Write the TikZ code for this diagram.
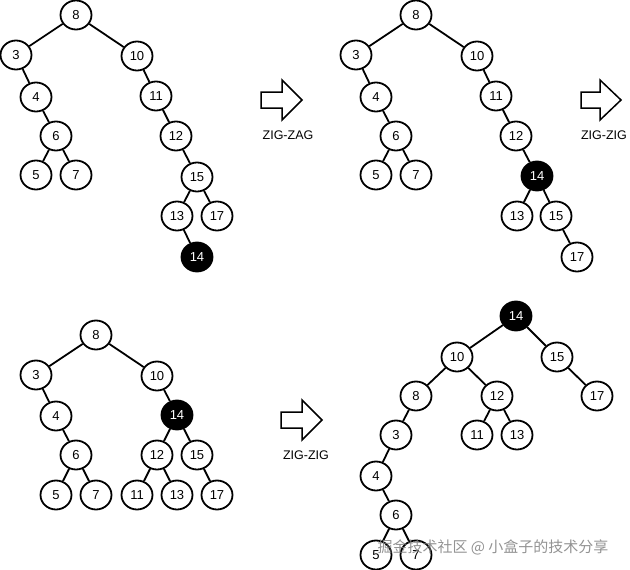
\documentclass[tikz,border=0pt]{standalone}
\usepackage{fontspec}
\setmainfont{Liberation Sans}
\newfontfamily\cjk{Noto Sans CJK SC}
\usetikzlibrary{shapes.geometric}

\tikzset{
    bst/.style={ellipse, draw, line width=1.8pt, fill=white, minimum width=31pt,
        minimum height=29pt, inner sep=0pt, font=\fontsize{13}{15}\selectfont},
    hot/.style={bst, fill=black, text=white},
    link/.style={line width=1.8pt},
    rotarrow/.style={draw, line width=1.5pt, line join=miter, fill=white},
    steplabel/.style={font=\fontsize{12.5}{14}\selectfont}
}

\begin{document}
\begin{tikzpicture}[x=1pt, y=-1pt]
    \useasboundingbox (0,0) rectangle (630,570);

    % first tree, 14 just inserted
    \foreach \n/\x/\y in {8/76/15, 3/16/55, 10/137/56, 4/36/97, 11/156/96, 6/56/136,
        12/176/136, 5/36/175, 7/76/175, 15/197/177, 13/177/216, 17/217/216}
        \node[bst] (a\n) at (\x,\y) {\n};
    \node[hot] (a14) at (197,257) {14};
    \foreach \u/\v in {8/3, 8/10, 3/4, 4/6, 6/5, 6/7, 10/11, 11/12, 12/15, 15/13, 15/17, 13/14}
        \draw[link] (a\u) -- (a\v);

    \draw[rotarrow] (261,92) -- (282,92) -- (282,80) -- (302,100) -- (282,120)
        -- (282,108) -- (261,108) -- cycle;
    \node[steplabel] (zz) at (288,135) {ZIG-ZAG};

    % second tree
    \foreach \n/\x/\y in {8/416/15, 3/356/55, 10/477/56, 4/376/97, 11/496/96, 6/396/136,
        12/516/136, 5/376/175, 7/416/175, 13/517/216, 15/556/216, 17/577/257}
        \node[bst] (b\n) at (\x,\y) {\n};
    \node[hot] (b14) at (537,176) {14};
    \foreach \u/\v in {8/3, 8/10, 3/4, 4/6, 6/5, 6/7, 10/11, 11/12, 12/14, 14/13, 14/15, 15/17}
        \draw[link] (b\u) -- (b\v);

    \draw[rotarrow] (581,92) -- (600,92) -- (600,80) -- (621,100) -- (600,120)
        -- (600,108) -- (581,108) -- cycle;
    \node[steplabel] (zg1) at (604,135) {ZIG-ZIG};

    % third tree
    \foreach \n/\x/\y in {8/96/335, 3/36/375, 10/157/376, 4/56/416, 6/76/455,
        12/157/455, 15/197/455, 5/56/495, 7/96/495, 11/137/495, 13/177/495, 17/217/495}
        \node[bst] (c\n) at (\x,\y) {\n};
    \node[hot] (c14) at (177,415) {14};
    \foreach \u/\v in {8/3, 8/10, 3/4, 4/6, 6/5, 6/7, 10/14, 14/12, 14/15, 12/11, 12/13, 15/17}
        \draw[link] (c\u) -- (c\v);

    \draw[rotarrow] (281,412) -- (302,412) -- (302,400) -- (322,420) -- (302,440)
        -- (302,428) -- (281,428) -- cycle;
    \node[steplabel] (zg2) at (306,455) {ZIG-ZIG};

    % fourth tree, 14 at the root
    \foreach \n/\x/\y in {10/457/357, 15/557/357, 8/416/396, 12/497/396, 17/597/396,
        3/396/435, 11/477/435, 13/517/435, 4/376/476, 6/396/515, 5/376/555, 7/416/555}
        \node[bst] (d\n) at (\x,\y) {\n};
    \node[hot] (d14) at (516,316) {14};
    \foreach \u/\v in {14/10, 14/15, 15/17, 10/8, 10/12, 12/11, 12/13, 8/3, 3/4, 4/6, 6/5, 6/7}
        \draw[link] (d\u) -- (d\v);

    % watermark
    \node[text=gray, opacity=0.85, font=\cjk\fontsize{15}{17}\selectfont] (mark) at (493,547)
        {掘金技术社区 @ 小盒子的技术分享};
\end{tikzpicture}
\end{document}
